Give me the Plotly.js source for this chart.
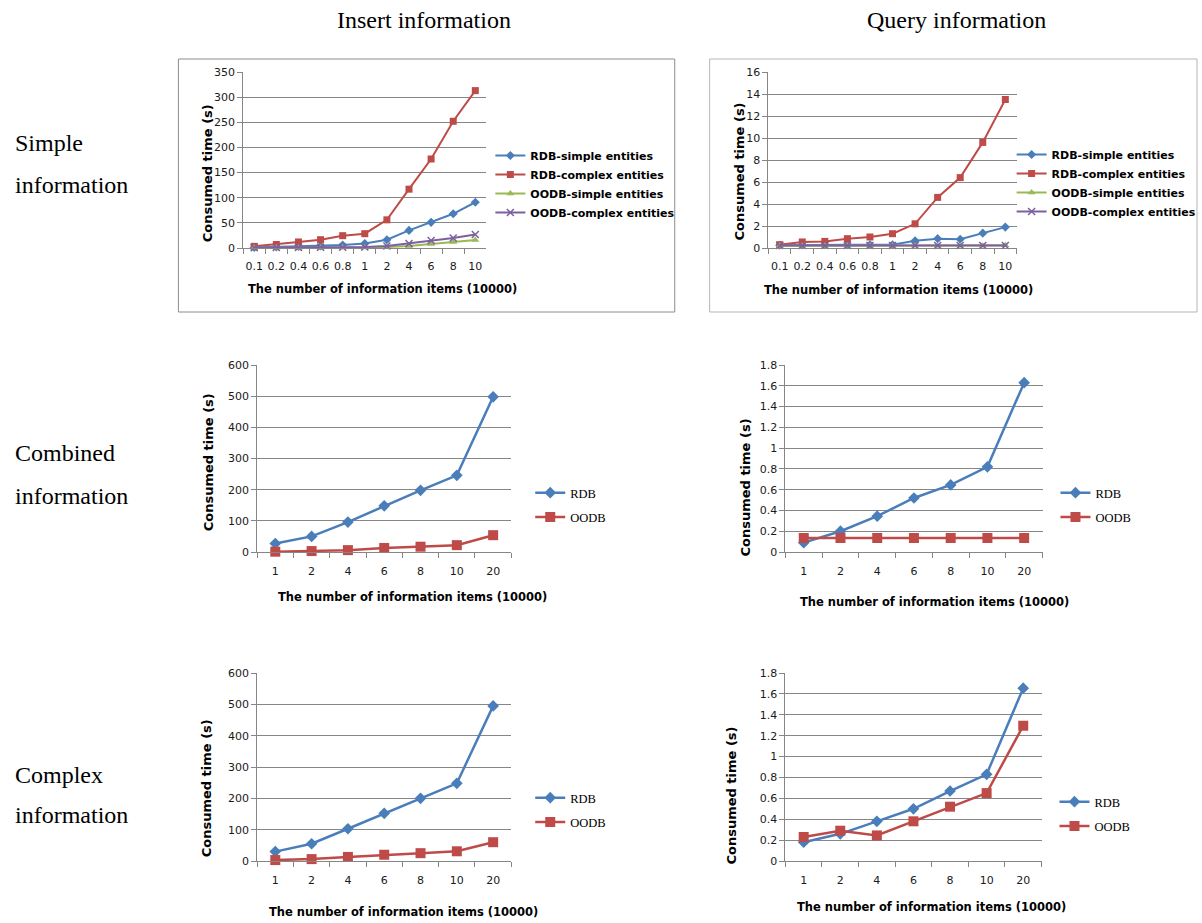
<!DOCTYPE html>
<html>
<head>
<meta charset="utf-8">
<script src="https://cdn.plot.ly/plotly-3.0.1.min.js"></script>
<style>html,body{margin:0;padding:0;background:#fff;}#chart{width:1202px;height:923px;}</style>
</head>
<body>
<div id="chart"></div>
<script>
// ---------- categories ----------
const catsSmall = ["0.1","0.2","0.4","0.6","0.8","1","2","4","6","8","10"];
const catsLarge = ["1","2","4","6","8","10","20"];

// ---------- Insert information / Simple information ----------
const insSimple_RDBsimple   = [1, 2, 3, 4, 6, 9, 16.5, 35, 51, 68, 91];
const insSimple_RDBcomplex  = [3.3, 7, 12, 16.5, 24.5, 28.5, 56, 117, 177, 252, 313];
const insSimple_OODBsimple  = [0.5, 0.5, 0.5, 0.6, 0.8, 1, 2, 4, 8, 12, 16];
const insSimple_OODBcomplex = [0.8, 1, 1.2, 1.4, 1.6, 2, 4, 9, 15, 20, 27];

// ---------- Query information / Simple information ----------
const qrySimple_RDBsimple   = [0.25, 0.28, 0.3, 0.3, 0.3, 0.3, 0.65, 0.85, 0.8, 1.35, 1.9];
const qrySimple_RDBcomplex  = [0.3, 0.55, 0.6, 0.85, 1.0, 1.3, 2.2, 4.6, 6.4, 9.6, 13.5];
const qrySimple_OODBsimple  = [0.2, 0.2, 0.2, 0.2, 0.2, 0.2, 0.2, 0.2, 0.2, 0.2, 0.25];
const qrySimple_OODBcomplex = [0.22, 0.22, 0.22, 0.22, 0.22, 0.22, 0.22, 0.22, 0.22, 0.22, 0.22];

// ---------- Combined information ----------
const insCombined_RDB  = [27, 50, 96, 148, 198, 246, 498];
const insCombined_OODB = [1, 3, 6, 13, 17, 22, 54];
const qryCombined_RDB  = [0.09, 0.2, 0.345, 0.52, 0.646, 0.82, 1.63];
const qryCombined_OODB = [0.135, 0.135, 0.135, 0.135, 0.135, 0.135, 0.135];

// ---------- Complex information ----------
const insComplex_RDB  = [30, 55, 103, 152, 200, 248, 495];
const insComplex_OODB = [3, 6, 13, 20, 25, 31, 60];
const qryComplex_RDB  = [0.18, 0.26, 0.38, 0.5, 0.67, 0.83, 1.655];
const qryComplex_OODB = [0.23, 0.29, 0.245, 0.38, 0.52, 0.65, 1.295];

// ---------- labels ----------
const colHeaders = ["Insert information", "Query information"];
const rowHeaders = [["Simple", "information"], ["Combined", "information"], ["Complex", "information"]];
const yTitle = "Consumed time (s)";
const xTitle = "The number of information items (10000)";
const namesSimple = ["RDB-simple entities", "RDB-complex entities", "OODB-simple entities", "OODB-complex entities"];
const namesTwo = ["RDB", "OODB"];

// ---------- styles ----------
const W = 1202, H = 923;
const BLUE = "#4A7EBB", RED = "#BE4B48", GREEN = "#98B954", PURPLE = "#7D60A0";
const GRAY = "#868686";
const px = v => v / W;
const py = v => 1 - v / H;

const styles4 = [
  {color: BLUE,   symbol: "diamond",     size: 7},
  {color: RED,    symbol: "square",      size: 7},
  {color: GREEN,  symbol: "triangle-up", size: 7},
  {color: PURPLE, symbol: "x-thin-open", size: 7}
];
const styles2 = [
  {color: BLUE, symbol: "diamond", size: 9},
  {color: RED,  symbol: "square",  size: 10}
];

const traces = [];
function addTraces(idx, cats, series, names, styles, lw) {
  series.forEach((ys, k) => {
    const st = styles[k];
    traces.push({
      type: "scatter", mode: "lines+markers",
      x: cats, y: ys, name: names[k],
      xaxis: "x" + (idx === 1 ? "" : idx), yaxis: "y" + (idx === 1 ? "" : idx),
      legend: idx === 1 ? "legend" : "legend" + idx,
      legendgroup: "g" + idx + "_" + k,
      line: {color: st.color, width: lw},
      marker: {color: st.color, symbol: st.symbol, size: st.size,
               line: {color: st.color, width: st.symbol === "x-thin-open" ? 1.5 : 0}},
      cliponaxis: false
    });
  });
}
addTraces(1, catsSmall, [insSimple_RDBsimple, insSimple_RDBcomplex, insSimple_OODBsimple, insSimple_OODBcomplex], namesSimple, styles4, 2);
addTraces(2, catsSmall, [qrySimple_RDBsimple, qrySimple_RDBcomplex, qrySimple_OODBsimple, qrySimple_OODBcomplex], namesSimple, styles4, 2);
addTraces(3, catsLarge, [insCombined_RDB, insCombined_OODB], namesTwo, styles2, 2.5);
addTraces(4, catsLarge, [qryCombined_RDB, qryCombined_OODB], namesTwo, styles2, 2.5);
addTraces(5, catsLarge, [insComplex_RDB, insComplex_OODB], namesTwo, styles2, 2.5);
addTraces(6, catsLarge, [qryComplex_RDB, qryComplex_OODB], namesTwo, styles2, 2.5);

// panel geometry (pixels): plot area left, right, top, bottom
const panels = [
  {l: 244, r: 488,  t: 72,  b: 248, n: 11, ymax: 350, dt: 50,  standoff: 8},
  {l: 771, r: 1020, t: 72,  b: 248, n: 11, ymax: 16,  dt: 2,   standoff: 8},
  {l: 258, r: 513,  t: 365, b: 552, n: 7,  ymax: 600, dt: 100, standoff: 9},
  {l: 788, r: 1046, t: 365, b: 552, n: 7,  ymax: 1.8, dt: 0.2, standoff: 9},
  {l: 258, r: 513,  t: 673, b: 861, n: 7,  ymax: 600, dt: 100, standoff: 9},
  {l: 788, r: 1045, t: 673, b: 861, n: 7,  ymax: 1.8, dt: 0.2, standoff: 9}
];

const tickFont = {family: "DejaVu Sans, sans-serif", size: 11, color: "#1a1a1a"};
const layout = {
  width: W, height: H,
  margin: {l: 0, r: 0, t: 0, b: 0},
  paper_bgcolor: "#ffffff", plot_bgcolor: "#ffffff",
  showlegend: true,
  annotations: [], shapes: []
};

panels.forEach((p, i) => {
  const s = i === 0 ? "" : String(i + 1);
  layout["xaxis" + s] = {
    domain: [px(p.l), px(p.r)],
    anchor: "y" + s,
    type: "category",
    range: [-0.5, p.n - 0.5],
    showgrid: false, zeroline: false,
    showline: true, linecolor: GRAY, linewidth: 1,
    ticks: "outside", tickson: "boundaries", ticklen: 5, tickcolor: GRAY,
    ticklabelstandoff: p.standoff, tickangle: 0,
    tickfont: tickFont, fixedrange: true
  };
  layout["yaxis" + s] = {
    domain: [py(p.b), py(p.t)],
    anchor: "x" + s,
    range: [0, p.ymax], dtick: p.dt, tick0: 0,
    showgrid: true, gridcolor: GRAY, gridwidth: 1,
    zeroline: false,
    showline: true, linecolor: GRAY, linewidth: 1,
    ticks: "outside", ticklen: 5, tickcolor: GRAY,
    tickfont: tickFont, fixedrange: true
  };
});

// axis titles
const yTitlePos = [[208, 173], [741, 172], [210, 462], [747, 488], [207, 788], [733, 796]];
const xTitlePos = [[384, 289], [901, 290], [414, 597], [938, 602], [405, 912], [935, 907]];
yTitlePos.forEach(([x, y]) => layout.annotations.push({
  xref: "paper", yref: "paper", x: px(x), y: py(y), text: "<b>" + yTitle + "</b>",
  showarrow: false, textangle: -90, xanchor: "center", yanchor: "middle",
  font: {family: "DejaVu Sans, sans-serif", size: 13, color: "#000"}
}));
xTitlePos.forEach(([x, y]) => layout.annotations.push({
  xref: "paper", yref: "paper", x: px(x), y: py(y), text: "<b>" + xTitle + "</b>",
  showarrow: false, xanchor: "center", yanchor: "middle",
  font: {family: "DejaVu Sans, sans-serif", size: 11.5, color: "#000"}
}));

// column / row headers
const serif = {family: "Liberation Serif, Times New Roman, serif", size: 24, color: "#000"};
[[425, 20], [960, 20]].forEach(([x, y], k) => layout.annotations.push({
  xref: "paper", yref: "paper", x: px(x), y: py(y), text: colHeaders[k],
  showarrow: false, xanchor: "center", yanchor: "middle", font: serif
}));
const rowY = [[143, 185], [453, 496], [775, 815]];
rowHeaders.forEach((lines, r) => lines.forEach((t, j) => layout.annotations.push({
  xref: "paper", yref: "paper", x: px(13), y: py(rowY[r][j]), text: t,
  showarrow: false, xanchor: "left", yanchor: "middle", font: serif
})));

// frames around top row charts
layout.shapes.push({type: "rect", xref: "paper", yref: "paper",
  x0: px(179), x1: px(677), y0: py(312), y1: py(59), line: {color: "#8c8c8c", width: 1}});
layout.shapes.push({type: "rect", xref: "paper", yref: "paper",
  x0: px(712), x1: px(1201), y0: py(312), y1: py(59), line: {color: "#b5b5b5", width: 1}});

// legends
const legFont4 = {family: "DejaVu Sans, sans-serif", size: 11, color: "#000", weight: "bold"};
const legFont2 = {family: "Liberation Serif, serif", size: 12.5, color: "#000"};
const legPos = [
  {x: 492, y: 141, f: legFont4, gap: 0},
  {x: 1015, y: 140, f: legFont4, gap: 0},
  {x: 532, y: 478, f: legFont2, gap: 5},
  {x: 1059, y: 478, f: legFont2, gap: 5},
  {x: 532, y: 783, f: legFont2, gap: 5},
  {x: 1058, y: 787, f: legFont2, gap: 5}
];
legPos.forEach((L, i) => {
  const key = i === 0 ? "legend" : "legend" + (i + 1);
  layout[key] = {
    x: px(L.x), y: py(L.y), xanchor: "left", yanchor: "top",
    xref: "paper", yref: "paper",
    bgcolor: "rgba(0,0,0,0)", borderwidth: 0,
    font: L.f, tracegroupgap: L.gap, itemwidth: 30,
    itemclick: false, itemdoubleclick: false
  };
});

Plotly.newPlot("chart", traces, layout, {displayModeBar: false, staticPlot: true});
</script>
</body>
</html>
